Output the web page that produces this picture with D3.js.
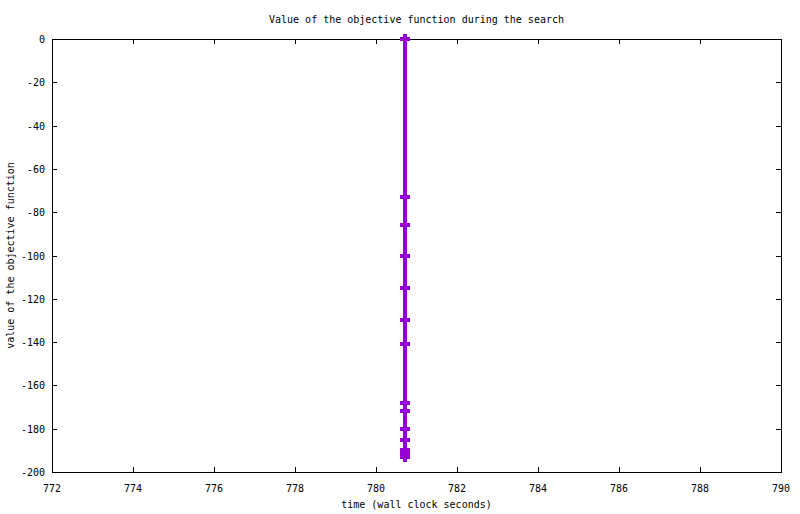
<!DOCTYPE html>
<html><head><meta charset="utf-8">
<script src="https://cdn.jsdelivr.net/npm/d3@7"></script>
<style>
html,body{margin:0;padding:0;background:#fff;}
text{font-family:"DejaVu Sans Mono",monospace;font-size:10px;fill:#000;}
</style></head>
<body><svg id="c" width="800" height="514"></svg>
<script>
const title = "Value of the objective function during the search";
const xLabel = "time (wall clock seconds)";
const yLabel = "value of the objective function";
const xTicks = [772,774,776,778,780,782,784,786,788,790];
const yTicks = [0,-20,-40,-60,-80,-100,-120,-140,-160,-180,-200];
const times = [780.72,780.72,780.72,780.72,780.72,780.72,780.72,780.72,780.72,780.72,780.72,780.72,780.72,780.72,780.72];
const values = [0,-73,-86,-100,-115,-130,-141,-168,-172,-180,-185,-190,-191,-192,-193];

const W=800,H=514, L=52, R=781, T=39, B=472;
const svg = d3.select("#c");
svg.append("rect").attr("width",W).attr("height",H).attr("fill","#fff");
const x = d3.scaleLinear().domain([772,790]).range([L,R]);
const y = d3.scaleLinear().domain([-200,0]).range([B,T]);
const tl = 5;

const g = svg.append("g").attr("shape-rendering","crispEdges");
// ticks
xTicks.forEach(v=>{
  const px = Math.round(x(v))+0.5;
  g.append("line").attr("x1",px).attr("x2",px).attr("y1",B).attr("y2",B-tl).attr("stroke","#000");
  g.append("line").attr("x1",px).attr("x2",px).attr("y1",T).attr("y2",T+tl).attr("stroke","#000");
  svg.append("text").attr("x",x(v)).attr("y",B+20).attr("text-anchor","middle").text(v);
});
yTicks.forEach(v=>{
  const py = Math.round(y(v))+0.5;
  g.append("line").attr("x1",L).attr("x2",L+tl).attr("y1",py).attr("y2",py).attr("stroke","#000");
  g.append("line").attr("x1",R).attr("x2",R-tl).attr("y1",py).attr("y2",py).attr("stroke","#000");
  svg.append("text").attr("x",45).attr("y",y(v)+4).attr("text-anchor","end").text(v);
});
g.append("rect").attr("x",L+0.5).attr("y",T+0.5).attr("width",R-L).attr("height",B-T)
  .attr("fill","none").attr("stroke","#000");

// data
const pts = times.map((t,i)=>[t,values[i]]);
const col = "#9400d3";
svg.append("path").datum(pts)
  .attr("d", d3.line().x(d=>x(d[0])).y(d=>y(d[1])))
  .attr("fill","none").attr("stroke",col).attr("stroke-width",4).attr("shape-rendering","crispEdges");
const mk = svg.append("g").attr("shape-rendering","crispEdges");
pts.forEach(d=>{
  const cx=x(d[0]), cy=y(d[1]);
  mk.append("rect").attr("x",cx-5).attr("y",cy-2).attr("width",10).attr("height",4).attr("fill",col);
  mk.append("rect").attr("x",cx-2).attr("y",cy-5.5).attr("width",4).attr("height",11).attr("fill",col);
});

svg.append("text").attr("x",(L+R)/2+0).attr("y",23).attr("text-anchor","middle").text(title);
svg.append("text").attr("x",(L+R)/2).attr("y",508).attr("text-anchor","middle").text(xLabel);
svg.append("text").attr("transform",`translate(14,${(T+B)/2}) rotate(-90)`).attr("text-anchor","middle").text(yLabel);
</script></body></html>
